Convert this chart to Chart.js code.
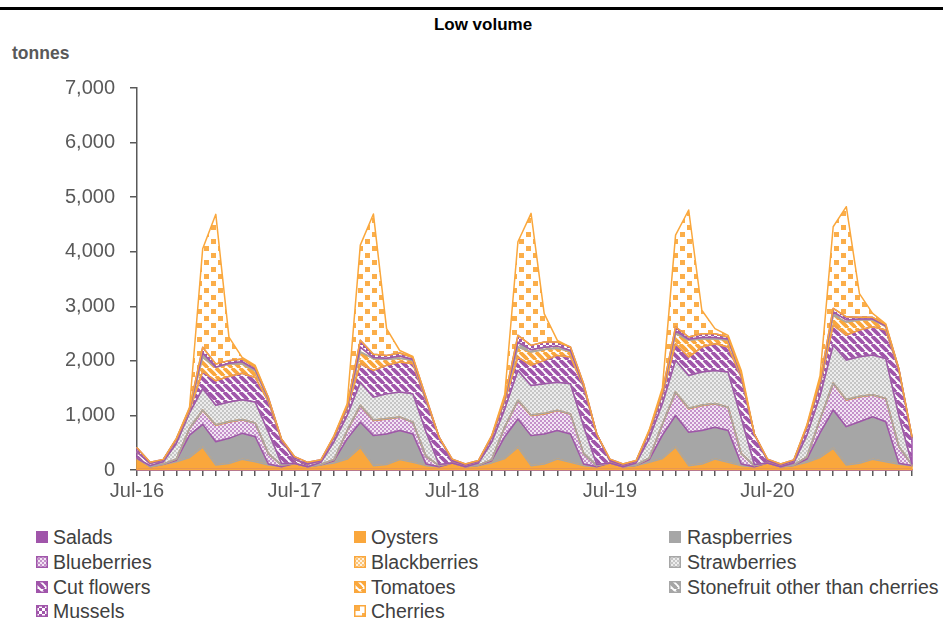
<!DOCTYPE html>
<html>
<head>
<meta charset="utf-8">
<title>Low volume</title>
<script src="https://cdn.jsdelivr.net/npm/chart.js@4.4.1/dist/chart.umd.min.js"></script>
<style>
  body { margin: 0; background: #fff; font-family: "Liberation Sans", Arial, sans-serif; }
  #page { position: relative; width: 943px; height: 622px; overflow: hidden; }
  #rule { position: absolute; left: 0; top: 7px; width: 943px; height: 3px; background: #000; }
  #title { position: absolute; left: 383px; top: 15px; width: 200px; text-align: center;
           font-weight: bold; font-size: 17px; line-height: 20px; color: #000; }
  #unit { position: absolute; left: 12px; top: 43px; font-weight: bold; font-size: 17.5px;
          line-height: 20px; color: #595959; }
  #wrap { position: absolute; left: 0; top: 0; width: 943px; height: 505px; }
  .sw { position: absolute; width: 12px; height: 12px; }
  .lb { position: absolute; font-size: 19.5px; line-height: 22px; color: #404040; white-space: nowrap; }
</style>
</head>
<body>
<div id="page">
  <div id="rule"></div>
  <div id="title">Low volume</div>
  <div id="unit">tonnes</div>
  <div id="wrap"><canvas id="chart"></canvas></div>
  <div id="legend"></div>
</div>
<script>
// ── Categories (Jul-16 → Jun-21, monthly) ─────────────────────────────────────
const monthNames = ['Jul','Aug','Sep','Oct','Nov','Dec','Jan','Feb','Mar','Apr','May','Jun'];
const seasons    = [16, 17, 18, 19, 20];
const tickLabels = ['Jul-16', 'Jul-17', 'Jul-18', 'Jul-19', 'Jul-20'];
const labels = [];
seasons.forEach(y => monthNames.forEach((m, j) => labels.push(m + '-' + (j < 6 ? y : y + 1))));

// ── Series (tonnes, stacked bottom → top) ─────────────────────────────────────
const salads = [
  10,10,10,10,10,10,10,10,10,10,10,10,
  10,10,10,10,10,10,10,10,10,10,10,10,
  10,10,10,10,10,10,10,10,10,10,10,10,
  10,10,10,10,10,10,10,10,10,10,10,10,
  10,10,10,10,10,10,10,10,10,10,10,10];
const oysters = [
  204,50,90,140,220,410,82,110,185,143,82,50,
  110,50,80,120,190,405,70,90,180,130,70,50,
  120,50,70,120,200,405,70,100,190,130,70,50,
  120,50,70,130,200,410,70,100,190,130,70,50,
  120,50,70,130,220,387,82,112,185,143,94,70];
const raspberries = [
  0,0,5,30,410,416,427,460,477,457,18,0,
  0,0,5,40,370,460,550,560,533,520,30,0,
  0,0,5,40,400,520,550,550,523,520,30,0,
  0,0,5,50,430,578,612,613,584,583,30,0,
  0,0,5,60,450,702,702,763,782,732,18,0];
const blueberries = [
  0,0,5,20,120,258,300,300,250,252,190,30,
  0,0,5,20,150,305,275,275,245,215,140,20,
  0,0,5,20,180,337,367,368,367,368,190,20,
  0,0,5,30,200,429,429,459,428,428,190,20,
  0,0,5,40,250,488,488,458,397,427,308,10];
const blackberries = [
  0,0,0,0,0,5,10,10,5,0,0,0,
  0,0,0,0,0,5,10,10,5,0,0,0,
  0,0,0,0,0,5,10,10,5,0,0,0,
  0,0,0,0,0,5,10,10,5,0,0,0,
  0,0,0,0,0,5,10,10,5,0,0,0];
const strawberries = [
  0,20,40,290,290,392,356,356,361,384,395,30,
  0,0,40,330,280,425,420,450,455,520,450,20,
  0,0,40,320,330,548,542,542,515,552,500,20,
  0,0,40,360,380,577,602,602,608,643,650,20,
  0,0,40,400,430,697,723,723,727,733,570,20];
const cutFlowers = [
  116,41,35,70,40,314,450,469,486,449,560,430,
  70,50,30,80,120,337,490,522,550,550,574,500,
  40,30,30,90,150,245,368,429,490,490,720,560,
  40,30,30,120,160,306,337,459,490,459,750,560,
  40,30,40,150,200,367,458,488,519,519,832,480];
const tomatoes = [
  0,0,0,5,10,260,246,227,170,120,40,10,
  0,0,0,0,20,215,215,110,70,60,20,0,
  0,0,0,0,20,183,245,200,130,100,20,0,
  0,0,0,0,20,183,306,147,85,127,20,0,
  0,0,0,0,20,183,238,183,122,70,10,0];
const stonefruit = [
  0,0,0,0,10,80,4,13,40,30,10,0,
  0,0,0,0,10,90,20,20,40,20,10,0,
  0,0,0,0,10,90,40,40,40,20,10,0,
  0,0,0,0,10,50,20,30,30,20,10,0,
  0,0,0,0,10,60,40,20,20,10,5,0];
const mussels = [
  79,20,10,10,20,103,57,49,50,36,25,10,
  54,30,18,20,30,124,59,53,55,35,30,0,
  30,20,15,20,30,125,82,96,75,63,30,0,
  30,20,15,20,30,73,41,68,68,37,30,0,
  30,20,15,20,40,62,57,30,30,20,8,20];
const cherries = [
  0,0,0,5,20,1807,2743,431,30,34,0,0,
  0,0,0,10,32,1744,2571,490,47,20,0,0,
  0,0,0,10,60,1714,2419,521,31,0,0,0,
  0,0,0,20,69,1684,2327,429,92,31,65,0,
  0,0,0,20,100,1497,2017,436,73,16,0,0];

// ── Palette ───────────────────────────────────────────────────────────────────
const PURPLE = '#A055AA';
const ORANGE = '#FAA73C';
const GRAY   = '#A6A6A6';
const AXIS   = '#595959';

// [label, data, motif, couleur motif, fond motif]
const SERIES = [
  ['Salads',       salads,       'solid',   PURPLE],
  ['Oysters',      oysters,      'solid',   ORANGE],
  ['Raspberries',  raspberries,  'solid',   GRAY],
  ['Blueberries',  blueberries,  'checker', '#C491CA', '#F3E6F4'],
  ['Blackberries', blackberries, 'checker', '#FBC57A', '#FFF1DD'],
  ['Strawberries', strawberries, 'checker', '#C6C6C6', '#EDEDED'],
  ['Cut flowers',  cutFlowers,   'stripes', PURPLE],
  ['Tomatoes',     tomatoes,     'stripes', ORANGE],
  ['Stonefruit other than cherries', stonefruit, 'stripes', GRAY],
  ['Mussels',      mussels,      'grid',    PURPLE],
  ['Cherries',     cherries,     'dots',    '#FBAE4A'],
];
const OUTLINE = [PURPLE, ORANGE, GRAY, PURPLE, ORANGE, GRAY, PURPLE, ORANGE, GRAY, PURPLE, ORANGE];

// ── Motifs (tuiles répétées) ──────────────────────────────────────────────────
function makeTile(kind, color, bg = '#fff') {
  const c = document.createElement('canvas');
  const g = c.getContext('2d');
  if (kind === 'solid') {
    c.width = c.height = 4; g.fillStyle = color; g.fillRect(0, 0, 4, 4);
  } else if (kind === 'checker') {
    c.width = c.height = 4; g.fillStyle = bg; g.fillRect(0, 0, 4, 4);
    g.fillStyle = color; g.fillRect(0, 0, 2, 2); g.fillRect(2, 2, 2, 2);
  } else if (kind === 'stripes') {
    c.width = c.height = 8; g.fillStyle = bg; g.fillRect(0, 0, 8, 8);
    g.strokeStyle = color; g.lineWidth = 3.8;
    [-8, 0, 8].forEach(o => { g.beginPath(); g.moveTo(o, 0); g.lineTo(o + 8, 8); g.stroke(); });
  } else if (kind === 'grid') {
    c.width = c.height = 6; g.fillStyle = bg; g.fillRect(0, 0, 6, 6);
    g.fillStyle = color; g.fillRect(0, 0, 3, 3); g.fillRect(3, 3, 3, 3);
  } else if (kind === 'dots') {
    c.width = c.height = 14; g.fillStyle = bg; g.fillRect(0, 0, 14, 14);
    g.fillStyle = color; g.fillRect(1, 1, 5, 5); g.fillRect(8, 8, 5, 5);
  }
  return c;
}

// ── Contours façon Excel : chaque aire est entourée, dans l'ordre d'empilement
const outlinePlugin = {
  id: 'outlines',
  afterDatasetsDraw(chart) {
    const ctx = chart.ctx;
    const base = chart.scales.y.getPixelForValue(0);
    ctx.save();
    ctx.lineJoin = 'round';
    ctx.lineWidth = 1.5;
    chart.data.datasets.forEach((ds, i) => {
      const top = chart.getDatasetMeta(i).data;
      const bot = i ? chart.getDatasetMeta(i - 1).data : null;
      ctx.beginPath();
      top.forEach((p, k) => k ? ctx.lineTo(p.x, p.y) : ctx.moveTo(p.x, p.y));
      for (let k = top.length - 1; k >= 0; k--) ctx.lineTo(top[k].x, bot ? bot[k].y : base);
      ctx.closePath();
      ctx.strokeStyle = OUTLINE[i];
      ctx.stroke();
    });
    ctx.restore();
  }
};

// ── Chart ─────────────────────────────────────────────────────────────────────
const canvas = document.getElementById('chart');
const ctx = canvas.getContext('2d');

const datasets = SERIES.map(([label, data, kind, color, bg], i) => ({
  label,
  data,
  backgroundColor: ctx.createPattern(makeTile(kind, color, bg), 'repeat'),
  borderWidth: 0,
  pointRadius: 0,
  tension: 0,
  fill: i === 0 ? 'origin' : '-1',
}));

new Chart(ctx, {
  type: 'line',
  data: { labels, datasets },
  options: {
    responsive: true,
    maintainAspectRatio: false,
    animation: false,
    layout: { padding: { top: 88, right: 31, left: 0, bottom: 0 } },
    plugins: { legend: { display: false }, tooltip: { enabled: false } },
    scales: {
      x: {
        z: 1,
        offset: false,
        grid: { display: true, drawOnChartArea: false, drawTicks: true, tickLength: 6, color: AXIS, lineWidth: 1.5 },
        border: { display: true, color: AXIS, width: 1.5 },
        ticks: {
          autoSkip: false, maxRotation: 0, padding: 3,
          color: AXIS, font: { family: 'Liberation Sans', size: 20 },
          callback(v) { const l = this.getLabelForValue(v); return tickLabels.includes(l) ? l : ''; },
        },
        afterFit: s => { s.height = 35; },
      },
      y: {
        z: 1,
        stacked: true,
        min: 0, max: 7000,
        grid: { display: true, drawOnChartArea: false, drawTicks: true, tickLength: 7, color: AXIS, lineWidth: 1.5 },
        border: { display: true, color: AXIS, width: 1.5 },
        ticks: {
          stepSize: 1000, padding: 15,
          color: AXIS, font: { family: 'Liberation Sans', size: 20 },
          callback: v => v.toLocaleString('en-US'),
        },
        afterFit: s => { s.width = 137; },
      },
    },
  },
  plugins: [outlinePlugin],
});

// ── Légende HTML (3 colonnes) ─────────────────────────────────────────────────
const swatchX = [36, 354, 669];
const textX   = [53, 371, 687];
const rowY    = [537, 562, 587, 611];
const legend = document.getElementById('legend');
SERIES.forEach(([label, , kind, color, bg], k) => {
  const col = k % 3, row = Math.floor(k / 3);
  const sw = document.createElement('canvas');
  sw.width = sw.height = 12;
  sw.className = 'sw';
  sw.style.left = swatchX[col] + 'px';
  sw.style.top = (rowY[row] - 6) + 'px';
  const g = sw.getContext('2d');
  g.fillStyle = g.createPattern(makeTile(kind, color, bg), 'repeat');
  g.fillRect(0, 0, 12, 12);
  if (kind !== 'solid') { g.strokeStyle = OUTLINE[k]; g.lineWidth = 1.5; g.strokeRect(0.75, 0.75, 10.5, 10.5); }
  legend.appendChild(sw);
  const t = document.createElement('div');
  t.className = 'lb';
  t.textContent = label;
  t.style.left = textX[col] + 'px';
  t.style.top = (rowY[row] - 11) + 'px';
  legend.appendChild(t);
});
</script>
</body>
</html>
